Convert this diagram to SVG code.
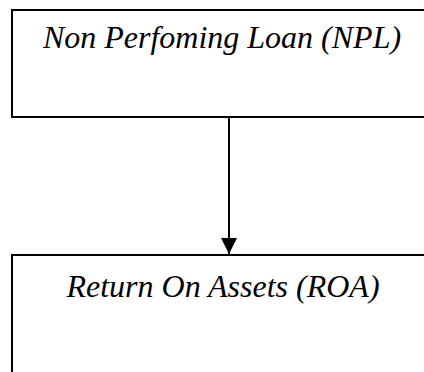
<svg xmlns="http://www.w3.org/2000/svg" width="424" height="372" viewBox="0 0 424 372">
<style>
.box{fill:#fff;stroke:#000;stroke-width:2}
.lbl{font-family:"Liberation Serif","Times New Roman",serif;font-style:italic;font-size:32px;fill:#000;text-anchor:middle}
.conn{stroke:#000;stroke-width:2;fill:none}
</style>
<defs>
<marker id="arr" viewBox="0 0 16 16" refX="16" refY="8" markerWidth="16" markerHeight="16" markerUnits="userSpaceOnUse" orient="auto">
<path d="M0,0 L16,8 L0,16 Z" fill="#000"/>
</marker>
</defs>
<rect width="424" height="372" fill="#fff"/>
<g id="npl">
<rect class="box" x="12" y="10" width="430" height="107"/>
<text class="lbl" x="222" y="48">Non Perfoming Loan (NPL)</text>
</g>
<g id="roa">
<rect class="box" x="12" y="255" width="430" height="200"/>
<text class="lbl" x="223" y="297">Return On Assets (ROA)</text>
</g>
<g id="connectors">
<line class="conn" x1="229" y1="117" x2="229" y2="254" marker-end="url(#arr)"/>
</g>
</svg>
